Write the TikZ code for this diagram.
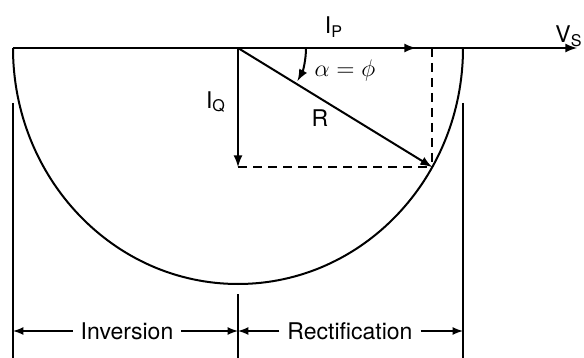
\documentclass[tikz,border=0pt]{standalone}
\usepackage{fontspec}
\setmainfont{TeX Gyre Heros}
\usetikzlibrary{arrows, positioning, calc}

\begin{document}
\begin{tikzpicture}[x=0.5pt, y=-0.5pt, line width=1pt,
  lbl/.style={font=\fontsize{11.5}{13}\selectfont, inner sep=2pt},
  dimtxt/.style={font=\fontsize{11.5}{13}\selectfont, inner sep=3.5pt},
  dashline/.style={dashed, dash pattern=on 4.5pt off 3pt}]
\useasboundingbox (0,0) rectangle (584,358);

 %points
 \coordinate (O) at (238,48);
 \coordinate (L) at (13,48);
 \coordinate (E) at (577,48);
 \coordinate (P) at (416,48);
 \coordinate (Pd) at (432,48);
 \coordinate (Q) at (238,167);
 \coordinate (S) at (432,167);

 %axis and circle
 \draw[-latex] (L) -- (E);
 \draw[-latex] (O) -- (P);
 \draw (L) arc[start angle=180, end angle=0, x radius=225, y radius=236];

 %vectors
 \draw[-latex] (O) -- (Q);
 \draw[-latex] (O) -- (S);
 \draw[dashline] (Q) -- (S);
 \draw[dashline] (Pd) -- (S);
 \draw[-latex] ($(O)+(68,0)$) arc[start angle=0, end angle=29, radius=68];

 %labels
 \node[lbl] (ip) at (334,27) {I\textsubscript{P}};
 \node[lbl] (iq) at (216,102) {I\textsubscript{Q}};
 \node[lbl] (r) at (320,118) {R};
 \node[lbl] (ang) at (345,71) {$\alpha = \phi$};
 \node[lbl] (vs) at (569,36) {V\textsubscript{S}};

 %extension lines
 \coordinate (a1) at (13,103);  \coordinate (a2) at (13,358);
 \coordinate (b1) at (463,103); \coordinate (b2) at (463,358);
 \coordinate (c1) at (238,294); \coordinate (c2) at (238,358);
 \draw[line width=0.8pt] (a1) -- (a2);
 \draw[line width=0.8pt] (b1) -- (b2);
 \draw[line width=0.8pt] (c1) -- (c2);

 %dimensions
 \coordinate (dl) at (13,331);
 \coordinate (dm) at (238,331);
 \coordinate (dr) at (463,331);
 \node[dimtxt] (inv) at (127,331) {Inversion};
 \node[dimtxt] (rect) at (350,331) {Rectification};
 \draw[-latex, line width=0.8pt] (inv.west) -- (dl);
 \draw[-latex, line width=0.8pt] (inv.east) -- (dm);
 \draw[-latex, line width=0.8pt] (rect.west) -- (dm);
 \draw[-latex, line width=0.8pt] (rect.east) -- (dr);
\end{tikzpicture}
\end{document}
